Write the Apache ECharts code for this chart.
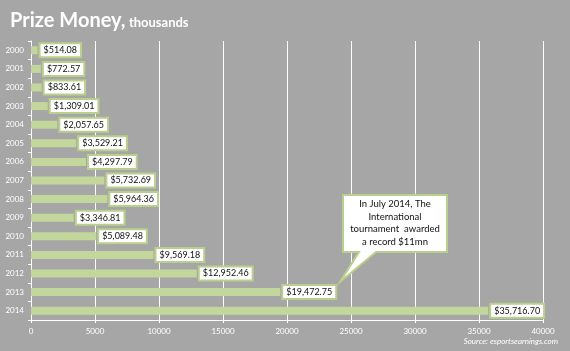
<!DOCTYPE html>
<html>
<head>
<meta charset="utf-8">
<script src="https://cdn.jsdelivr.net/npm/echarts@6/dist/echarts.min.js"></script>
<style>
  html, body { margin: 0; padding: 0; background: #a6a6a6; }
  #main { width: 570px; height: 351px; }
</style>
</head>
<body>
<div id="main"></div>
<script>
// years, top to bottom
var years = ["2000", "2001", "2002", "2003", "2004", "2005", "2006", "2007",
  "2008", "2009", "2010", "2011", "2012", "2013", "2014"];
// prize money, thousands of dollars
var prize = [514.08, 772.57, 833.61, 1309.01, 2057.65, 3529.21, 4297.79, 5732.69,
  5964.36, 3346.81, 5089.48, 9569.18, 12952.46, 19472.75, 35716.70];
var xTicks = [0, 5000, 10000, 15000, 20000, 25000, 30000, 35000, 40000];

var font = "Lato, 'Open Sans', sans-serif";

function money(v) {
  var parts = v.toFixed(2).split(".");
  parts[0] = parts[0].replace(/\B(?=(\d{3})+(?!\d))/g, ",");
  return "$" + parts.join(".");
}

var chart = echarts.init(document.getElementById("main"));
chart.setOption({
  backgroundColor: "#a6a6a6",
  animation: false,
  grid: { left: 31, right: 27, top: 41, bottom: 31 },
  xAxis: {
    type: "value",
    min: xTicks[0],
    max: xTicks[xTicks.length - 1],
    interval: 5000,
    axisLine: { show: true, lineStyle: { color: "#ffffff", width: 1 } },
    axisTick: { show: true, length: 3, lineStyle: { color: "#ffffff" } },
    splitLine: { show: true, lineStyle: { color: "#ffffff", width: 1 } },
    axisLabel: {
      color: "#ffffff", fontSize: 8, fontFamily: font, margin: 7,
      formatter: function (v) { return String(v); }
    }
  },
  yAxis: {
    type: "category",
    data: years,
    inverse: true,
    axisLine: { show: true, lineStyle: { color: "#ffffff", width: 1 } },
    axisTick: { show: true, length: 3, lineStyle: { color: "#ffffff" } },
    axisLabel: { color: "#ffffff", fontSize: 8, fontFamily: font, margin: 7 }
  },
  series: [{
    type: "bar",
    data: prize,
    barWidth: 8,
    itemStyle: { color: "#c3d69b" },
    label: {
      show: true,
      position: "right",
      distance: 3,
      formatter: function (p) { return money(p.value); },
      color: "#111111",
      fontSize: 9,
      fontFamily: font,
      backgroundColor: "#ffffff",
      borderColor: "#b9cf8c",
      borderWidth: 2,
      padding: [2, 3, 1, 3]
    }
  }],
  graphic: [
    {
      type: "text",
      left: 10,
      top: 11,
      z: 100,
      style: {
        text: "{a|Prize Money,} {b|thousands}",
        rich: {
          a: { fontSize: 20, fontWeight: "bold", fill: "#ffffff", fontFamily: font },
          b: { fontSize: 13, fontWeight: "bold", fill: "#ffffff", fontFamily: font, padding: [4, 0, 0, 0] }
        }
      }
    },
    {
      type: "polygon",
      z: 100,
      shape: {
        points: [[343, 195], [447, 195], [447, 252], [376, 252], [340, 282], [359, 252], [343, 252]]
      },
      style: { fill: "#ffffff", stroke: "#b9cf8c", lineWidth: 2 }
    },
    {
      type: "text",
      x: 395,
      y: 223,
      z: 101,
      style: {
        text: "In July 2014, The\nInternational\ntournament  awarded\na record $11mn",
        fill: "#111111",
        fontSize: 9.5,
        lineHeight: 12.5,
        fontFamily: font,
        align: "center",
        verticalAlign: "middle"
      }
    },
    {
      type: "text",
      right: 12,
      top: 337,
      z: 100,
      style: {
        text: "Source: esportsearnings.com",
        fill: "#ffffff",
        fontSize: 8,
        fontStyle: "italic",
        fontFamily: font
      }
    }
  ]
});
</script>
</body>
</html>
